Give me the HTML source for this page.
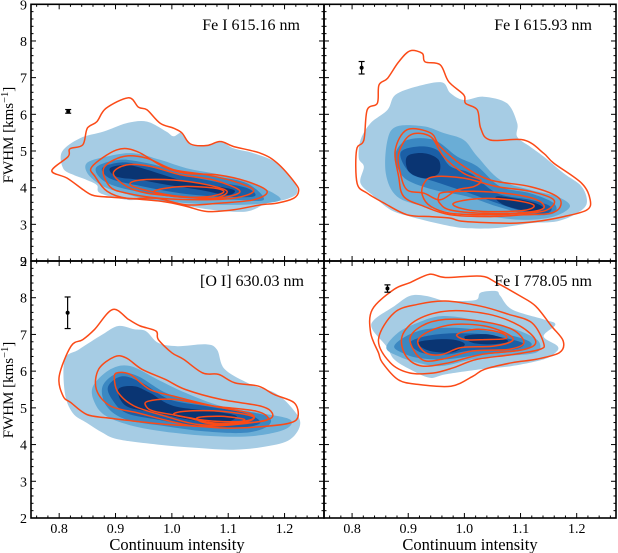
<!DOCTYPE html>
<html><head><meta charset="utf-8"><style>
html,body{margin:0;padding:0;background:#fff;}
svg{display:block;font-family:"Liberation Serif","DejaVu Serif",serif;}
</style></head><body>
<svg id="fig" width="618" height="553" viewBox="0 0 618 553" xmlns="http://www.w3.org/2000/svg">
<g id="panels"></g>
<g id="frames"></g>
<text transform="translate(13,135) rotate(-90)" text-anchor="middle" font-size="15">FWHM [kms<tspan dy="-5" font-size="10.5">−1</tspan><tspan dy="5">]</tspan></text>
<text transform="translate(13,390) rotate(-90)" text-anchor="middle" font-size="15">FWHM [kms<tspan dy="-5" font-size="10.5">−1</tspan><tspan dy="5">]</tspan></text>
<text x="177" y="550" text-anchor="middle" font-size="16.5">Continuum intensity</text>
<text x="470" y="550" text-anchor="middle" font-size="16.5">Continuum intensity</text>
</svg>
<script>
// axis domains
const xDomain = [0.75, 1.27];
const yDomain = [2, 9];
const xTicks = [0.8, 0.9, 1.0, 1.1, 1.2];
const xTickLabels = ["0.8", "0.9", "1.0", "1.1", "1.2"];
const yTicks = [2, 3, 4, 5, 6, 7, 8, 9];
const yTickLabels = ["2", "3", "4", "5", "6", "7", "8", "9"];
const blueColors = ["#a6cce4", "#6aadd6", "#3b88c2", "#1b5fa6", "#0a3573"];

// panel titles
const titles = ["Fe I 615.16 nm", "Fe I 615.93 nm", "[O I] 630.03 nm", "Fe I 778.05 nm"];

// error bars: [x, y, halfHeight]
const errTL = [0.816, 6.08, 0.05];
const errTR = [0.817, 7.27, 0.17];
const errBL = [0.815, 7.59, 0.43];
const errBR = [0.863, 8.25, 0.1];

// ---- Top-left (Fe I 615.16) ----
const tlBlue = [
 [[0.805,4.98],[0.837,5.35],[0.879,5.53],[0.92,5.76],[0.956,5.8],[0.99,5.53],[1.003,5.4],[1.018,5.49],[1.033,5.17],[1.062,5.17],[1.086,5.26],[1.11,5.07],[1.145,4.94],[1.187,4.67],[1.216,4.17],[1.222,3.85],[1.2,3.67],[1.169,3.58],[1.133,3.35],[1.074,3.39],[1.015,3.53],[0.956,3.67],[0.92,3.67],[0.873,3.85],[0.867,4.07],[0.849,4.21],[0.825,4.35],[0.807,4.53]],
 [[0.849,4.67],[0.885,4.85],[0.932,4.94],[0.979,4.76],[1.026,4.53],[1.074,4.39],[1.121,4.21],[1.169,3.94],[1.193,3.67],[1.157,3.56],[1.098,3.53],[1.026,3.58],[0.962,3.67],[0.914,3.85],[0.879,4.03],[0.852,4.35]],
 [[0.867,4.57],[0.908,4.76],[0.956,4.67],[1.015,4.44],[1.074,4.31],[1.133,4.12],[1.163,3.67],[1.11,3.67],[1.026,3.71],[0.956,3.85],[0.902,4.03],[0.873,4.26]],
 [[0.879,4.57],[0.914,4.69],[0.956,4.58],[1.015,4.35],[1.074,4.17],[1.133,3.99],[1.145,3.76],[1.08,3.76],[1.015,3.85],[0.95,4.03],[0.897,4.21],[0.879,4.39]],
 [[0.89,4.53],[0.92,4.62],[0.956,4.49],[1.015,4.21],[1.062,4.08],[1.11,3.94],[1.098,3.8],[1.05,3.94],[0.991,4.08],[0.944,4.21],[0.902,4.3]]
];
const tlRed = [
 [[0.787,4.46],[0.816,4.85],[0.819,5.06],[0.842,5.17],[0.85,5.62],[0.867,5.8],[0.883,6.16],[0.923,6.45],[0.941,6.19],[0.956,6.12],[0.979,5.76],[1.003,5.62],[1.018,5.49],[1.033,5.19],[1.062,5.15],[1.086,5.26],[1.11,5.12],[1.157,4.94],[1.187,4.67],[1.219,4.12],[1.225,3.9],[1.216,3.71],[1.187,3.58],[1.157,3.53],[1.11,3.4],[1.062,3.35],[1.026,3.49],[0.985,3.62],[0.92,3.71],[0.873,3.76],[0.858,3.8],[0.843,3.94],[0.814,4.26]],
 [[0.858,4.57],[0.902,5.03],[0.938,4.99],[0.985,4.57],[1.026,4.39],[1.08,4.35],[1.133,4.17],[1.169,3.9],[1.145,3.67],[1.086,3.58],[1.026,3.53],[0.973,3.71],[0.92,3.71],[0.885,3.9],[0.864,4.3]],
 [[0.879,4.53],[0.914,4.85],[0.956,4.8],[1.003,4.49],[1.062,4.35],[1.121,4.12],[1.145,3.9],[1.11,3.71],[1.05,3.67],[0.979,3.71],[0.92,3.85],[0.89,4.03]],
 [[0.896,4.39],[0.92,4.62],[0.962,4.58],[1.015,4.35],[1.074,4.21],[1.121,3.9],[1.08,3.71],[1.015,3.76],[0.956,3.85],[0.92,4.03]],
 [[0.926,4.08],[0.944,4.21],[1.003,4.21],[1.062,4.08],[1.098,3.9],[1.074,3.71],[1.015,3.76],[0.962,3.9]],
 [[0.968,3.9],[1.015,4.03],[1.074,3.99],[1.092,3.88],[1.062,3.75],[1.003,3.76]]
];

// ---- Top-right (Fe I 615.93) ----
const trBlue = [
 [[0.812,4.8],[0.815,5.3],[0.833,5.76],[0.863,6.12],[0.877,6.53],[0.916,6.76],[0.96,6.87],[0.975,6.58],[0.999,6.39],[1.034,6.48],[1.076,6.3],[1.094,5.76],[1.094,5.39],[1.117,5.12],[1.141,4.85],[1.177,4.39],[1.209,4.03],[1.218,3.58],[1.2,3.3],[1.165,3.08],[1.117,3.03],[1.058,2.9],[0.999,2.9],[0.951,3.03],[0.904,3.21],[0.869,3.39],[0.839,3.76],[0.815,4.12],[0.821,4.57]],
 [[0.863,5.3],[0.88,5.67],[0.928,5.67],[0.963,5.49],[0.999,5.3],[1.023,4.85],[1.064,4.21],[1.117,3.94],[1.165,3.76],[1.188,3.49],[1.159,3.21],[1.106,3.12],[1.046,3.21],[0.987,3.3],[0.928,3.49],[0.88,3.76],[0.86,4.39]],
 [[0.877,4.94],[0.898,5.3],[0.946,5.3],[0.987,4.85],[1.023,4.58],[1.064,4.03],[1.117,3.85],[1.159,3.58],[1.159,3.3],[1.117,3.26],[1.058,3.49],[1.005,3.76],[0.946,3.94],[0.898,4.21],[0.88,4.57]],
 [[0.886,4.94],[0.916,5.12],[0.951,5.03],[0.975,4.58],[1.011,4.39],[1.058,3.85],[1.117,3.67],[1.153,3.49],[1.147,3.3],[1.106,3.35],[1.058,3.58],[0.999,3.9],[0.946,4.17],[0.904,4.39]],
 [[0.898,4.85],[0.928,4.94],[0.954,4.76],[0.954,4.39],[0.928,4.26],[0.901,4.44]]
];
const trBlue5b = [[1.058,3.76],[1.117,3.62],[1.141,3.44],[1.117,3.35],[1.07,3.53]];
const trRed = [
 [[0.809,4.12],[0.808,5.03],[0.821,5.3],[0.827,6.12],[0.845,6.3],[0.848,6.8],[0.863,6.98],[0.883,7.43],[0.903,7.73],[0.925,7.66],[0.93,7.43],[0.957,7.35],[0.972,6.89],[0.999,6.53],[1.002,6.3],[1.023,6.12],[1.029,5.62],[1.046,5.3],[1.106,5.3],[1.141,4.94],[1.159,4.67],[1.209,4.12],[1.224,3.67],[1.218,3.39],[1.177,3.21],[1.129,3.08],[1.082,3.03],[0.999,3.08],[0.975,3.17],[0.94,3.21],[0.898,3.26],[0.857,3.58],[0.827,3.85]],
 [[0.877,5.03],[0.898,5.58],[0.94,5.49],[0.957,5.12],[0.999,4.58],[1.046,4.21],[1.117,4.03],[1.165,3.76],[1.171,3.49],[1.153,3.3],[1.106,3.26],[1.046,3.21],[0.975,3.26],[0.928,3.49],[0.892,3.76],[0.883,4.3]],
 [[0.883,4.94],[0.904,5.44],[0.94,5.39],[0.963,4.85],[0.999,4.39],[1.029,4.21],[1.017,4.03],[0.987,3.94],[0.957,3.67],[0.928,3.85],[0.898,3.94],[0.886,4.39]],
 [[0.928,4.12],[0.946,4.3],[0.999,4.26],[1.058,4.03],[1.117,3.9],[1.159,3.67],[1.147,3.39],[1.106,3.3],[1.034,3.26],[0.975,3.3],[0.94,3.49],[0.925,3.8]],
 [[0.954,3.76],[0.963,3.87],[1.017,3.9],[1.082,3.83],[1.129,3.67],[1.141,3.44],[1.106,3.32],[1.034,3.3],[0.975,3.39],[0.956,3.58]],
 [[0.981,3.58],[1.023,3.7],[1.082,3.67],[1.123,3.53],[1.106,3.38],[1.034,3.35],[0.993,3.44]]
];

// ---- Bottom-left ([O I] 630.03) ----
const blBlue = [
 [[0.81,6.32],[0.835,6.59],[0.877,7.0],[0.905,7.23],[0.933,7.14],[0.954,7.09],[0.976,6.77],[1.01,6.68],[1.06,6.73],[1.08,6.59],[1.094,6.05],[1.14,5.64],[1.182,5.41],[1.21,5.05],[1.228,4.59],[1.21,4.14],[1.168,3.95],[1.11,3.86],[1.045,3.91],[0.975,4.0],[0.905,4.14],[0.877,4.32],[0.849,4.59],[0.824,4.86],[0.81,5.41]],
 [[0.86,5.59],[0.891,6.05],[0.926,6.14],[0.975,5.77],[1.024,5.41],[1.087,5.05],[1.157,4.86],[1.21,4.68],[1.2,4.41],[1.143,4.23],[1.073,4.23],[1.003,4.32],[0.933,4.5],[0.884,4.77],[0.863,5.14]],
 [[0.877,5.59],[0.905,5.95],[0.94,5.86],[0.989,5.41],[1.045,5.14],[1.115,4.95],[1.17,4.77],[1.17,4.5],[1.129,4.32],[1.059,4.36],[0.989,4.5],[0.919,4.68],[0.884,5.05]],
 [[0.887,5.59],[0.912,5.86],[0.947,5.68],[0.996,5.23],[1.059,5.05],[1.129,4.86],[1.157,4.59],[1.115,4.45],[1.045,4.5],[0.975,4.68],[0.919,4.86],[0.894,5.23]],
 [[0.905,5.5],[0.933,5.59],[0.961,5.41],[1.003,5.05],[1.073,4.91],[1.115,4.77],[1.087,4.59],[1.031,4.68],[0.975,4.86],[0.919,5.05]]
];
const blRed = [
 [[0.807,5.32],[0.8,5.86],[0.821,6.68],[0.842,6.86],[0.863,7.14],[0.895,7.68],[0.923,7.41],[0.944,7.23],[0.972,7.09],[0.976,6.86],[1.0,6.5],[1.021,6.32],[1.055,5.95],[1.083,5.91],[1.112,5.68],[1.154,5.59],[1.182,5.36],[1.217,5.14],[1.224,4.77],[1.21,4.59],[1.168,4.5],[1.1,4.45],[1.045,4.5],[0.989,4.55],[0.933,4.64],[0.884,4.73],[0.849,4.82],[0.821,5.14]],
 [[0.87,6.05],[0.898,6.39],[0.919,6.36],[0.947,6.05],[0.989,5.77],[1.024,5.5],[1.087,5.23],[1.157,5.05],[1.178,4.86],[1.17,4.68],[1.115,4.55],[1.045,4.5],[0.996,4.64],[0.94,4.86],[0.891,5.05],[0.866,5.5]],
 [[0.898,5.77],[0.902,5.95],[0.926,5.91],[0.961,5.5],[1.003,5.32],[1.073,5.05],[1.136,4.86],[1.143,4.68],[1.101,4.55],[1.045,4.55],[0.989,4.77],[0.933,5.05],[0.905,5.41]],
 [[0.954,5.05],[0.958,5.18],[1.003,5.23],[1.073,5.05],[1.15,4.91],[1.17,4.68],[1.129,4.59],[1.073,4.59],[1.017,4.77],[0.968,4.91]],
 [[1.003,4.82],[1.024,4.91],[1.087,4.91],[1.143,4.77],[1.129,4.64],[1.073,4.64],[1.031,4.73]],
 [[1.045,4.73],[1.087,4.77],[1.129,4.68],[1.101,4.57],[1.059,4.59]]
];

// ---- Bottom-right (Fe I 778.05) ----
const brBlue = [
 [[0.836,7.14],[0.84,7.41],[0.875,7.77],[0.903,8.05],[0.931,8.05],[0.966,7.91],[0.994,7.91],[1.022,7.95],[1.029,8.14],[1.057,8.18],[1.064,8.05],[1.085,7.68],[1.141,7.41],[1.162,7.27],[1.141,6.95],[1.166,6.68],[1.162,6.5],[1.141,6.32],[1.085,6.14],[1.029,6.05],[0.966,5.91],[0.938,5.82],[0.903,6.05],[0.875,6.32],[0.861,6.68]],
 [[0.861,6.64],[0.882,7.05],[0.917,7.32],[0.959,7.5],[1.015,7.41],[1.071,7.23],[1.113,7.0],[1.134,6.77],[1.127,6.5],[1.071,6.41],[1.015,6.32],[0.959,6.14],[0.917,6.23],[0.882,6.41]],
 [[0.875,6.68],[0.896,6.95],[0.931,7.14],[0.98,7.18],[1.043,7.09],[1.099,6.91],[1.12,6.73],[1.099,6.55],[1.029,6.45],[0.966,6.32],[0.917,6.36],[0.889,6.5]],
 [[0.903,6.77],[0.931,6.95],[0.98,7.03],[1.036,7.0],[1.085,6.86],[1.106,6.73],[1.085,6.59],[1.015,6.57],[0.966,6.45],[0.924,6.5]],
 [[0.917,6.77],[0.945,6.86],[0.98,6.86],[1.001,6.73],[0.98,6.52],[0.938,6.55]]
];
const brBlue5b = [[1.001,6.95],[1.043,7.0],[1.078,6.82],[1.05,6.73],[1.015,6.77]];
const brRed = [
 [[0.833,7.05],[0.836,7.68],[0.875,8.23],[0.903,8.41],[0.938,8.64],[0.966,8.55],[1.029,8.59],[1.057,8.41],[1.099,8.05],[1.127,7.77],[1.155,7.23],[1.176,6.82],[1.169,6.5],[1.127,6.32],[1.085,6.23],[1.036,6.05],[1.015,5.86],[0.976,5.59],[0.917,5.64],[0.882,5.77],[0.854,6.23],[0.847,6.5]],
 [[0.847,6.86],[0.875,7.59],[0.917,7.82],[0.966,7.91],[1.029,7.77],[1.078,7.55],[1.12,7.32],[1.141,6.77],[1.134,6.59],[1.085,6.45],[1.022,6.32],[0.98,6.09],[0.945,5.95],[0.903,5.95],[0.868,6.23]],
 [[0.889,6.95],[0.917,7.41],[0.973,7.64],[1.043,7.55],[1.099,7.23],[1.127,6.82],[1.106,6.59],[1.029,6.45],[0.973,6.23],[0.924,6.14],[0.896,6.41]],
 [[0.903,6.86],[0.924,7.23],[0.966,7.41],[1.029,7.36],[1.085,7.14],[1.106,6.77],[1.078,6.59],[1.015,6.55],[0.959,6.32],[0.924,6.32]],
 [[0.917,6.82],[0.938,7.09],[0.98,7.27],[1.036,7.23],[1.078,7.0],[1.085,6.82],[1.05,6.68],[0.994,6.64],[0.959,6.45],[0.931,6.5]],
 [[0.987,7.0],[1.022,7.14],[1.064,7.05],[1.074,6.89],[1.036,6.86],[1.001,6.86]]
];

const panelDefs = [
 {name:"fe-615-16", x0:31, x1:324, y0:4.3, y1:261, blue:tlBlue, extra:null, red:tlRed, err:errTL, title:titles[0], tx:300, ty:30, xlabels:false},
 {name:"fe-615-93", x0:324, x1:616, y0:4.3, y1:261, blue:trBlue, extra:trBlue5b, red:trRed, err:errTR, title:titles[1], tx:592, ty:30, xlabels:false},
 {name:"o-630-03", x0:31, x1:324, y0:261, y1:518, blue:blBlue, extra:null, red:blRed, err:errBL, title:titles[2], tx:304, ty:286, xlabels:true},
 {name:"fe-778-05", x0:324, x1:616, y0:261, y1:518, blue:brBlue, extra:brBlue5b, red:brRed, err:errBR, title:titles[3], tx:592, ty:286, xlabels:true}
];

const NS = "http://www.w3.org/2000/svg";
function mk(tag, attrs, parent){ const e=document.createElementNS(NS,tag); for(const k in attrs) e.setAttribute(k,attrs[k]); if(parent) parent.appendChild(e); return e; }

function smoothPath(pts){
  const n=pts.length; let d="";
  for(let i=0;i<n;i++){
    const p0=pts[(i-1+n)%n],p1=pts[i],p2=pts[(i+1)%n],p3=pts[(i+2)%n];
    if(i===0) d+="M"+p1[0].toFixed(1)+","+p1[1].toFixed(1);
    const c1=[p1[0]+(p2[0]-p0[0])/6,p1[1]+(p2[1]-p0[1])/6];
    const c2=[p2[0]-(p3[0]-p1[0])/6,p2[1]-(p3[1]-p1[1])/6];
    d+="C"+c1[0].toFixed(1)+","+c1[1].toFixed(1)+" "+c2[0].toFixed(1)+","+c2[1].toFixed(1)+" "+p2[0].toFixed(1)+","+p2[1].toFixed(1);
  }
  return d+"Z";
}

const panelsG=document.getElementById("panels");
const framesG=document.getElementById("frames");

panelDefs.forEach(p=>{
  const sx=v=>p.x0+(v-xDomain[0])/(xDomain[1]-xDomain[0])*(p.x1-p.x0);
  const sy=v=>p.y1-(v-yDomain[0])/(yDomain[1]-yDomain[0])*(p.y1-p.y0);
  const toPx=poly=>poly.map(q=>[sx(q[0]),sy(q[1])]);
  const g=mk("g",{},panelsG);
  
  
  p.blue.forEach((poly,i)=>{
    const e=mk("path",{d:smoothPath(toPx(poly)),fill:blueColors[i],stroke:"none"},g);
    
    
  });
  if(p.extra){
    const e=mk("path",{d:smoothPath(toPx(p.extra)),fill:blueColors[4],stroke:"none"},g);
    
    
  }
  p.red.forEach((poly,i)=>{
    const e=mk("path",{d:smoothPath(toPx(poly)),fill:"none",stroke:"#fb4a17","stroke-width":1.5,"stroke-linejoin":"round"},g);
    
    
  });
  const ex=sx(p.err[0]), ey=sy(p.err[1]), eh=p.err[2]*(p.y1-p.y0)/(yDomain[1]-yDomain[0]);
  const eg=mk("g",{stroke:"#000","stroke-width":1.2},g);
  
  
  mk("line",{x1:ex,x2:ex,y1:ey-eh,y2:ey+eh},eg);
  mk("line",{x1:ex-3,x2:ex+3,y1:ey-eh,y2:ey-eh},eg);
  mk("line",{x1:ex-3,x2:ex+3,y1:ey+eh,y2:ey+eh},eg);
  mk("circle",{cx:ex,cy:ey,r:2,fill:"#000",stroke:"none"},eg);
  const t=mk("text",{x:p.tx,y:p.ty,"text-anchor":"end","font-size":"16",fill:"#000"},g);
  t.textContent=p.title;
  
  
  const tg=mk("g",{stroke:"#000","stroke-width":1},framesG);
  
  
  for(let v=0.76;v<1.27;v+=0.02){
    const x=sx(v); const major=xTicks.some(t=>Math.abs(t-v)<0.001); const L=major?5:2.5;
    mk("line",{x1:x,x2:x,y1:p.y1,y2:p.y1-L},tg);
    mk("line",{x1:x,x2:x,y1:p.y0,y2:p.y0+L},tg);
  }
  for(let v=2;v<=9.001;v+=0.2){
    const y=sy(v); const major=Math.abs(v-Math.round(v))<0.001; const L=major?5:2.5;
    mk("line",{x1:p.x0,x2:p.x0+L,y1:y,y2:y},tg);
    mk("line",{x1:p.x1,x2:p.x1-L,y1:y,y2:y},tg);
  }
  if(p.xlabels){
    xTicks.forEach((v,i)=>{
      const tl=mk("text",{x:sx(v),y:533,"text-anchor":"middle","font-size":"14",fill:"#000"},framesG);
      tl.textContent=xTickLabels[i];
      
      
    });
  }
  if(p.x0<100){
    yTicks.forEach((v,i)=>{
      if(p.y0>100 && v===9) return;
      const tl=mk("text",{x:27,y:sy(v)+5,"text-anchor":"end","font-size":"14",fill:"#000"},framesG);
      tl.textContent=yTickLabels[i];
      
      
    });
  }
  const fr=mk("rect",{x:p.x0,y:p.y0,width:p.x1-p.x0,height:p.y1-p.y0,fill:"none",stroke:"#000","stroke-width":1.6},framesG);
  
  
});
const nine=mk("text",{x:27,y:266,"text-anchor":"end","font-size":"14",fill:"#000"},framesG);
nine.textContent="9";


</script>
</body></html>
